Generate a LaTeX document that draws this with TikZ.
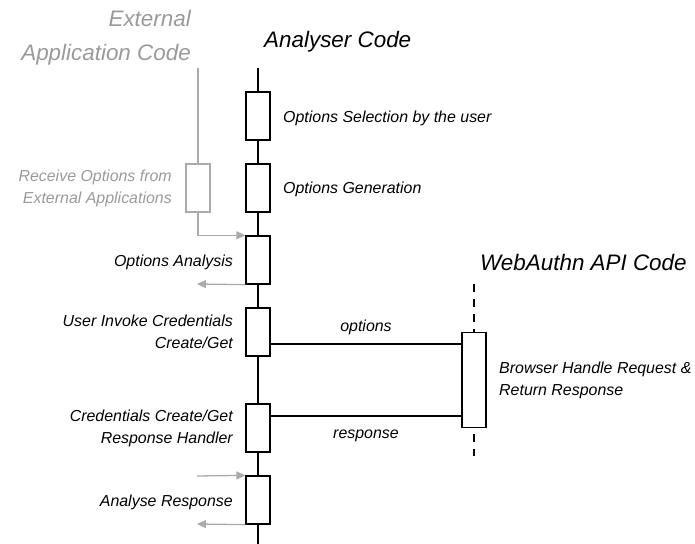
\documentclass[tikz,border=0pt]{standalone}
\usepackage{fontspec}
\setmainfont{Liberation Sans}
\usetikzlibrary{arrows.meta}
\definecolor{ghost}{HTML}{AAAAAA}
\definecolor{ghosttext}{HTML}{9A9A9A}
\tikzset{
  lifeline/.style={line width=1.3bp, black},
  actbox/.style={draw=black, line width=1.3bp, fill=white, minimum width=24bp, minimum height=48bp, inner sep=0pt},
  ghostbox/.style={draw=ghost, line width=1.3bp, fill=white, minimum width=24bp, minimum height=48bp, inner sep=0pt},
  msg/.style={line width=1.3bp, black},
  ghostarrow/.style={draw=ghost, line width=1.3bp, -{Triangle[length=9bp,width=8bp]}},
  lbl/.style={font=\fontsize{16}{22}\selectfont\itshape, inner sep=0pt, align=left},
  rlbl/.style={font=\fontsize{16}{22}\selectfont\itshape, inner sep=0pt, align=right},
  title/.style={font=\fontsize{22.5}{34}\selectfont\itshape, inner sep=0pt},
}
\begin{document}
\begin{tikzpicture}[x=1bp,y=-1bp]
\useasboundingbox (0,0) rectangle (695,544);

% lifeline heads
\node[title, anchor=west] (tA) at (264,42) {Analyser Code};
\node[title, anchor=east, align=right, text=ghosttext] (tE) at (191,38) {External\\Application Code};
\node[title, anchor=west] (tW) at (480,262) {WebAuthn API Code};

% analyser lifeline and activations
\coordinate (aTop) at (258,68);
\coordinate (aBot) at (258,546);
\draw[lifeline] (aTop) -- (aBot);
\node[actbox] (b1) at (258,116) {};
\node[actbox] (b2) at (258,188) {};
\node[actbox] (b3) at (258,260) {};
\node[actbox] (b4) at (258,332) {};
\node[actbox] (b5) at (258,428) {};
\node[actbox] (b6) at (258,500) {};

% external application lifeline
\coordinate (eTop) at (198,68);
\node[ghostbox] (e1) at (198,188) {};
\draw[draw=ghost, line width=1.3bp] (eTop) -- (e1.north);
\draw[ghostarrow] (e1.south) |- (b3.north west);

% outgoing / incoming grey arrows
\coordinate (o1) at (197,284);
\draw[ghostarrow] (b3.south west) -- (o1);
\coordinate (i2) at (197,476);
\draw[ghostarrow] (i2) -- (b6.north west);
\coordinate (o2) at (197,524);
\draw[ghostarrow] (b6.south west) -- (o2);

% WebAuthn lifeline
\coordinate (wTop) at (474,284);
\coordinate (wBot) at (474,456);
\draw[lifeline, dash pattern=on 8bp off 7bp] (wTop) -- (wBot);
\node[actbox, minimum height=95bp] (w1) at (474,380) {};

% messages
\draw[msg] (b4.east |- 0,344) coordinate (m1s) -- (w1.west |- m1s);
\draw[msg] (b5.east |- 0,416) coordinate (m2s) -- (w1.west |- m2s);
\node[lbl, anchor=center] (lo) at (366,327) {options};
\node[lbl, anchor=center] (lr) at (366,436) {response};

% activation labels
\node[lbl, anchor=west] (l1) at (283,118) {Options Selection by the user};
\node[lbl, anchor=west] (l2) at (283,189) {Options Generation};
\node[rlbl, anchor=east, text=ghosttext] (le) at (172,188) {Receive Options from\\External Applications};
\node[rlbl, anchor=east] (l3) at (233,262) {Options Analysis};
\node[rlbl, anchor=east] (l4) at (233,332) {User Invoke Credentials\\Create/Get};
\node[rlbl, anchor=east] (l5) at (233,428) {Credentials Create/Get\\Response Handler};
\node[rlbl, anchor=east] (l6) at (233,502) {Analyse Response};
\node[lbl, anchor=west] (lw) at (499,380) {Browser Handle Request \&\\Return Response};
\end{tikzpicture}
\end{document}
